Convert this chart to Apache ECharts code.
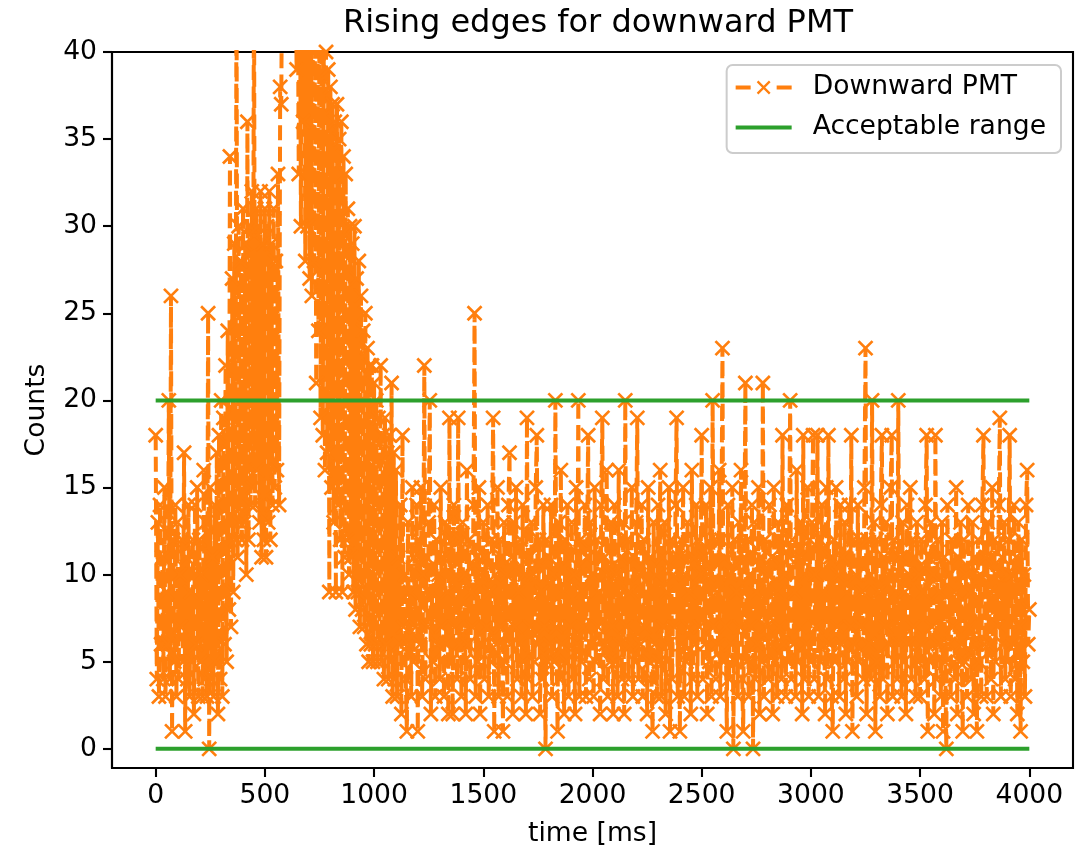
<!DOCTYPE html>
<html>
<head>
<meta charset="utf-8">
<script src="https://cdn.jsdelivr.net/npm/echarts@6/dist/echarts.min.js"></script>
<style>
html,body{margin:0;padding:0;background:#fff;}
#chart{width:1089px;height:850px;}
</style>
</head>
<body>
<div id="chart"></div>
<script>
// ---- data ----
const chartTitle = 'Rising edges for downward PMT';
const xName = 'time [ms]';
const yName = 'Counts';
const seriesName = 'Downward PMT';
const rangeName = 'Acceptable range';
const sampleStepMs = 5; // one reading every 5 ms, 0..4000 ms
const counts = [
  18, 4, 13, 3, 14, 6, 11, 4, 15, 3, 9, 6, 20, 4, 26, 1, 12, 5, 14, 3,
  13, 4, 10, 7, 12, 5, 17, 1, 11, 4, 14, 3, 9, 5, 12, 2, 14, 6, 15, 3,
  12, 5, 10, 3, 16, 4, 13, 3, 25, 0, 15, 4, 11, 3, 14, 5, 17, 2, 18, 4,
  20, 3, 19, 6, 22, 5, 24, 8, 34, 7, 27, 9, 29, 12, 45, 11, 30, 13, 28, 12,
  31, 13, 29, 10, 36, 12, 30, 14, 32, 15, 46, 14, 31, 16, 30, 13, 32, 11, 29, 12,
  31, 11, 30, 13, 32, 12, 29, 14, 31, 15, 28, 16, 33, 14, 38, 37, 48, 52, 55, 54,
  57, 59, 60, 62, 58, 57, 55, 52, 50, 39, 46, 33, 48, 30, 44, 36, 47, 28, 45, 30,
  46, 27, 49, 26, 44, 28, 42, 21, 45, 24, 43, 19, 41, 18, 42, 16, 40, 17, 39, 9,
  38, 15, 37, 13, 36, 9, 37, 14, 35, 12, 36, 9, 34, 11, 33, 12, 31, 10, 30, 11,
  29, 9, 30, 8, 27, 9, 28, 7, 26, 8, 24, 7, 25, 6, 23, 5, 22, 6, 22, 5,
  21, 6, 20, 5, 19, 6, 22, 5, 18, 4, 19, 6, 17, 4, 18, 5, 21, 3, 17, 4,
  16, 3, 11, 6, 14, 2, 18, 7, 10, 4, 1, 13, 6, 9, 3, 15, 5, 11, 7, 14,
  1, 12, 6, 15, 3, 10, 22, 4, 11, 7, 13, 20, 2, 9, 5, 14, 3, 12, 6, 10,
  4, 15, 7, 11, 3, 13, 6, 9, 2, 19, 5, 12, 2, 14, 7, 10, 4, 19, 6, 12,
  3, 13, 5, 10, 2, 16, 6, 12, 4, 9, 7, 14, 25, 3, 11, 5, 15, 2, 10, 6,
  13, 4, 11, 7, 14, 3, 9, 5, 12, 19, 1, 10, 6, 15, 3, 12, 7, 11, 1, 13,
  5, 10, 3, 14, 17, 6, 11, 2, 13, 7, 15, 4, 9, 6, 12, 3, 14, 5, 10, 2,
  19, 4, 11, 7, 13, 3, 10, 5, 15, 18, 6, 12, 2, 9, 4, 14, 7, 0, 12, 5,
  11, 6, 14, 3, 10, 5, 20, 7, 1, 13, 4, 16, 6, 9, 2, 12, 5, 14, 3, 11,
  7, 13, 4, 10, 2, 15, 6, 20, 3, 12, 5, 9, 7, 14, 3, 11, 18, 4, 13, 6,
  10, 3, 15, 5, 12, 7, 9, 2, 14, 19, 4, 11, 6, 16, 3, 10, 5, 13, 7, 2,
  14, 5, 10, 3, 16, 6, 11, 4, 13, 2, 20, 7, 12, 4, 9, 6, 15, 3, 11, 5,
  13, 19, 4, 10, 6, 14, 3, 12, 7, 9, 2, 15, 5, 11, 4, 1, 13, 6, 10, 3,
  14, 5, 16, 3, 11, 7, 13, 2, 9, 6, 15, 1, 12, 4, 10, 7, 14, 19, 3, 11,
  1, 12, 6, 15, 3, 10, 5, 13, 7, 9, 2, 16, 4, 11, 6, 14, 3, 12, 7, 10,
  18, 4, 11, 6, 14, 2, 10, 5, 15, 3, 20, 7, 12, 4, 9, 6, 16, 3, 12, 23,
  5, 11, 7, 1, 14, 4, 10, 6, 15, 0, 12, 5, 9, 3, 13, 7, 16, 4, 1, 11,
  21, 5, 12, 3, 10, 7, 14, 0, 13, 4, 9, 6, 15, 2, 11, 5, 21, 3, 12, 7,
  10, 4, 14, 6, 11, 2, 15, 5, 9, 3, 13, 7, 12, 4, 18, 6, 10, 3, 14, 5,
  11, 20, 4, 12, 6, 9, 3, 16, 5, 11, 7, 13, 2, 18, 4, 10, 6, 15, 3, 12,
  5, 13, 18, 4, 10, 7, 18, 3, 12, 5, 14, 6, 9, 2, 15, 4, 18, 6, 11, 3,
  1, 12, 5, 15, 7, 10, 3, 14, 6, 11, 4, 13, 2, 9, 5, 14, 7, 18, 1, 12,
  6, 10, 3, 14, 5, 12, 7, 9, 4, 15, 23, 2, 12, 6, 10, 4, 20, 5, 13, 1,
  12, 5, 9, 3, 14, 18, 4, 11, 7, 13, 2, 10, 6, 15, 18, 3, 12, 5, 9, 4,
  20, 6, 11, 3, 13, 5, 9, 2, 14, 6, 10, 15, 4, 12, 7, 11, 3, 13, 5, 10,
  3, 12, 6, 9, 4, 14, 18, 1, 11, 5, 13, 7, 10, 2, 18, 4, 12, 6, 9, 3,
  13, 1, 11, 5, 0, 14, 6, 10, 3, 12, 7, 9, 4, 15, 2, 11, 5, 13, 6, 1,
  12, 5, 10, 3, 14, 7, 9, 4, 13, 2, 11, 6, 1, 12, 5, 10, 3, 14, 18, 6,
  11, 3, 13, 6, 9, 4, 15, 2, 12, 5, 10, 7, 14, 19, 3, 11, 6, 13, 4, 10,
  5, 12, 18, 3, 10, 6, 14, 4, 11, 2, 13, 7, 1, 12, 5, 10, 3, 14, 16, 6,
  8
];
const rangeTimes = [0, 4000];
const rangeLow = [0, 0];
const rangeHigh = [20, 20];
const xTicks = [0, 500, 1000, 1500, 2000, 2500, 3000, 3500, 4000];
const yTicks = [0, 5, 10, 15, 20, 25, 30, 35, 40];

// ---- build ----
const times = counts.map((_, i) => i * sampleStepMs);
const pmtData = counts.map((c, i) => [times[i], c]);
const lowData = rangeTimes.map((t, i) => [t, rangeLow[i]]);
const highData = rangeTimes.map((t, i) => [t, rangeHigh[i]]);

const ORANGE = '#ff7f0e';
const GREEN = '#2ca02c';
const FONT = 'DejaVu Sans';
const FS = 26.6;
const crossPath = 'path://M0,0L10,10M10,0L0,10';
// legend icons (56 x 14 box)
const pmtIcon = 'path://M0,0L0,0M0,14L0,14M0,5H15V9H0ZM41,5H56V9H41Z' +
  'M22.7,0.1L34.9,12.3L33.3,13.9L21.1,1.7ZM34.9,1.7L22.7,13.9L21.1,12.3L33.3,0.1Z';
const rangeIcon = 'path://M0,0L0,0M0,14L0,14M0,5H56V9H0Z';

const chart = echarts.init(document.getElementById('chart'), null, {renderer: 'canvas'});
const axisCommon = {
  axisLine: {show: true, onZero: false, lineStyle: {color: '#000', width: 2.1}},
  splitLine: {show: false},
  nameTextStyle: {fontFamily: FONT, fontSize: FS, color: '#000'}
};
chart.setOption({
  animation: false,
  backgroundColor: '#fff',
  title: {
    text: chartTitle, left: 593, top: 3, textAlign: 'center',
    textStyle: {fontFamily: FONT, fontSize: 32, fontWeight: 'normal', color: '#000'}
  },
  grid: {
    left: 112, top: 52, width: 961, height: 716,
    outerBoundsMode: 'none', containLabel: false,
    show: true, borderColor: '#000', borderWidth: 2.1, backgroundColor: 'transparent'
  },
  legend: {
    orient: 'vertical', right: 28, top: 65,
    itemWidth: 56, itemHeight: 14, itemGap: 13,
    padding: [9, 15, 12, 9],
    borderColor: '#cccccc', borderWidth: 2, borderRadius: 6,
    backgroundColor: 'rgba(255,255,255,0.8)',
    symbolKeepAspect: false,
    itemStyle: {borderWidth: 0},
    textStyle: {fontFamily: FONT, fontSize: FS, color: '#000', padding: [0, 0, 0, 16]},
    data: [{name: seriesName, icon: pmtIcon}, {name: rangeName, icon: rangeIcon}]
  },
  xAxis: Object.assign({}, axisCommon, {
    type: 'value', min: -200, max: 4200,
    name: xName, nameLocation: 'middle', nameGap: 53,
    axisTick: {show: true, inside: false, length: 9, lineStyle: {color: '#000', width: 2.1}, customValues: xTicks},
    axisLabel: {show: true, margin: 15, fontFamily: FONT, fontSize: FS, color: '#000', customValues: xTicks, formatter: v => String(v)}
  }),
  yAxis: Object.assign({}, axisCommon, {
    type: 'value', min: -1.1, max: 40,
    name: yName, nameLocation: 'middle', nameGap: 61, nameRotate: 90,
    axisTick: {show: true, inside: false, length: 9, lineStyle: {color: '#000', width: 2.1}, customValues: yTicks},
    axisLabel: {show: true, margin: 15, fontFamily: FONT, fontSize: FS, color: '#000', customValues: yTicks, formatter: v => String(v)}
  }),
  series: [
    {
      name: seriesName, type: 'line', data: pmtData, clip: true,
      showAllSymbol: true, symbol: crossPath, symbolSize: 14,
      color: ORANGE,
      lineStyle: {color: ORANGE, width: 4, type: [15, 6.4]},
      itemStyle: {color: ORANGE, borderColor: ORANGE, borderWidth: 2.7},
      z: 2
    },
    {
      name: rangeName, type: 'line', data: highData, symbol: 'none',
      color: GREEN, lineStyle: {color: GREEN, width: 4}, z: 3
    },
    {
      name: rangeName, type: 'line', data: lowData, symbol: 'none',
      color: GREEN, lineStyle: {color: GREEN, width: 4}, z: 3
    }
  ]
});
</script>
</body>
</html>
